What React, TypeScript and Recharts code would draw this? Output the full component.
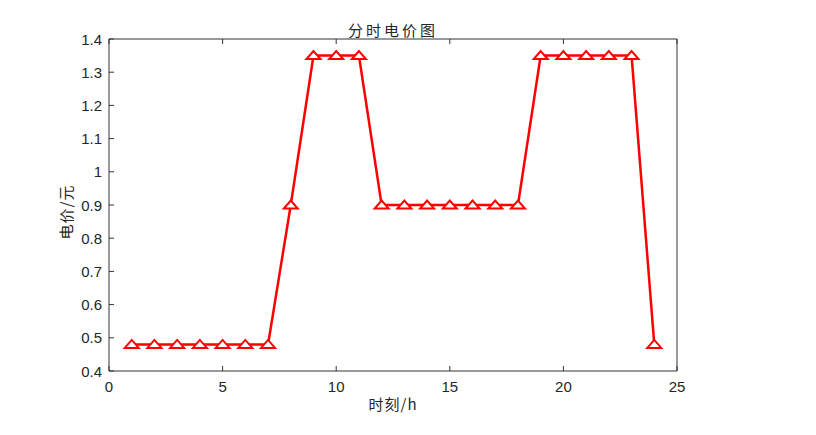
import { Line, LineChart, XAxis, YAxis } from "recharts";

const HOURS = [1, 2, 3, 4, 5, 6, 7, 8, 9, 10, 11, 12, 13, 14, 15, 16, 17, 18, 19, 20, 21, 22, 23, 24];
const PRICES = [
  0.48, 0.48, 0.48, 0.48, 0.48, 0.48, 0.48, 0.9, 1.35, 1.35, 1.35, 0.9,
  0.9, 0.9, 0.9, 0.9, 0.9, 0.9, 1.35, 1.35, 1.35, 1.35, 1.35, 0.48,
];
const X_TICKS = [0, 5, 10, 15, 20, 25];
const Y_TICKS = [0.4, 0.5, 0.6, 0.7, 0.8, 0.9, 1, 1.1, 1.2, 1.3, 1.4];

const TITLE = "分时电价图";
const X_LABEL = "时刻/h";
const Y_LABEL = "电价/元";

const W = 800;
const H = 419;
const AXIS_COLOR = "#333";
const TEXT_COLOR = "#262626";
const RED = "#ff0000";
const TICK_LEN = 5;
const NUM_FONT = "'Liberation Sans', Arial, sans-serif";
const CJK_FONT = "'Noto Sans CJK SC', sans-serif";

const data = HOURS.map((h, i) => ({ hour: h, price: PRICES[i] }));

const fmt = (v: number) => String(Number(v.toFixed(1)));

function BottomTick({ x, y, payload }: any) {
  return (
    <g>
      <line x1={x} x2={x} y1={y} y2={y - TICK_LEN} stroke={AXIS_COLOR} />
      <text x={x} y={y + 15} textAnchor="middle" dominantBaseline="central"
        fontSize={15} fontFamily={NUM_FONT} fill={TEXT_COLOR}>
        {fmt(payload.value)}
      </text>
    </g>
  );
}

function LeftTick({ x, y, payload }: any) {
  return (
    <g>
      <line x1={x} x2={x + TICK_LEN} y1={y} y2={y} stroke={AXIS_COLOR} />
      <text x={x - 7} y={y} textAnchor="end" dominantBaseline="central"
        fontSize={15} fontFamily={NUM_FONT} fill={TEXT_COLOR}>
        {fmt(payload.value)}
      </text>
    </g>
  );
}

function TopTick({ x, y }: any) {
  return <line x1={x} x2={x} y1={y} y2={y + TICK_LEN} stroke={AXIS_COLOR} />;
}

function RightTick({ x, y }: any) {
  return <line x1={x} x2={x - TICK_LEN} y1={y} y2={y} stroke={AXIS_COLOR} />;
}

function TriangleDot({ cx, cy, index }: any) {
  if (cx == null || cy == null) return null;
  const pts = `${cx - 7},${cy + 3.5} ${cx + 7},${cy + 3.5} ${cx},${cy - 4.5}`;
  return <polygon key={index} points={pts} fill="#fff" stroke={RED} strokeWidth={2} strokeLinejoin="miter" />;
}

const labelStyle: React.CSSProperties = {
  position: "absolute",
  transform: "translate(-50%, -50%)",
  fontFamily: CJK_FONT,
  fontSize: 15,
  color: TEXT_COLOR,
  whiteSpace: "nowrap",
};

export default function App() {
  return (
    <div style={{ position: "relative", width: W, height: H, background: "#fff" }}>
      <LineChart width={W} height={H} data={data}
        margin={{ top: 30, right: 130, bottom: 55, left: 100 }}>
        <XAxis xAxisId="bottom" dataKey="hour" type="number" domain={[0, 25]} ticks={X_TICKS}
          interval={0} height={1} tickSize={0} tickMargin={0} tickLine={false}
          axisLine={{ stroke: AXIS_COLOR }} tick={<BottomTick />} />
        <XAxis xAxisId="top" orientation="top" dataKey="hour" type="number" domain={[0, 25]}
          ticks={X_TICKS} interval={0} height={1} tickSize={0} tickMargin={0} tickLine={false}
          axisLine={{ stroke: AXIS_COLOR }} tick={<TopTick />} />
        <YAxis yAxisId="left" type="number" domain={[0.4, 1.4]} ticks={Y_TICKS} interval={0}
          width={1} tickSize={0} tickMargin={0} tickLine={false}
          axisLine={{ stroke: AXIS_COLOR }} tick={<LeftTick />} />
        <YAxis yAxisId="right" orientation="right" type="number" domain={[0.4, 1.4]} ticks={Y_TICKS}
          interval={0} width={1} tickSize={0} tickMargin={0} tickLine={false}
          axisLine={{ stroke: AXIS_COLOR }} tick={<RightTick />} />
        <Line xAxisId="bottom" yAxisId="left" dataKey="price" type="linear" stroke={RED}
          strokeWidth={2.5} dot={<TriangleDot />} activeDot={false} isAnimationActive={false} />
      </LineChart>
      <div style={{ ...labelStyle, left: 385, top: 21, letterSpacing: 3 }}>{TITLE}</div>
      <div style={{ ...labelStyle, left: 385, top: 395, letterSpacing: 1 }}>{X_LABEL}</div>
      <div style={{ ...labelStyle, left: 57, top: 204, letterSpacing: 1, transform: "translate(-50%, -50%) rotate(-90deg)" }}>
        {Y_LABEL}
      </div>
    </div>
  );
}
